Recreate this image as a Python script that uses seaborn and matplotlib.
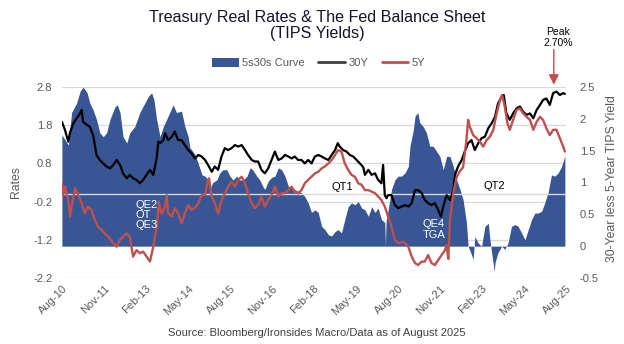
import numpy as np
import pandas as pd
import matplotlib
matplotlib.use("Agg")
import matplotlib.pyplot as plt
import seaborn as sns
from matplotlib.patches import Patch
from matplotlib.lines import Line2D
from matplotlib.ticker import FixedLocator, FuncFormatter

# ---------------- data (decimal years / values) -------------
curve_dates = [2010.58, 2010.77, 2010.87, 2011.02, 2011.12, 2011.21, 2011.33, 2011.41, 2011.51, 2011.61,
               2011.71, 2011.81, 2011.91, 2012.01, 2012.16, 2012.23, 2012.31, 2012.40, 2012.51, 2012.60,
               2012.75, 2012.90, 2013.05, 2013.15, 2013.25, 2013.32, 2013.40, 2013.50, 2013.60, 2013.74,
               2013.89, 2013.99, 2014.14, 2014.24, 2014.34, 2014.39, 2014.54, 2014.63, 2014.75, 2014.84,
               2014.93, 2014.98, 2015.07, 2015.19, 2015.28, 2015.37, 2015.49, 2015.58, 2015.67, 2015.79,
               2015.88, 2015.97, 2016.09, 2016.18, 2016.26, 2016.38, 2016.47, 2016.56, 2016.62, 2016.72,
               2016.82, 2016.92, 2017.02, 2017.12, 2017.22, 2017.32, 2017.42, 2017.51, 2017.61, 2017.71,
               2017.81, 2017.91, 2018.01, 2018.11, 2018.21, 2018.31, 2018.41, 2018.51, 2018.61, 2018.71,
               2018.80, 2018.90, 2019.00, 2019.10, 2019.20, 2019.30, 2019.40, 2019.50, 2019.60, 2019.70,
               2019.80, 2019.90, 2019.99, 2020.09, 2020.19, 2020.21, 2020.23, 2020.29, 2020.39, 2020.49,
               2020.59, 2020.69, 2020.79, 2020.89, 2020.94, 2021.04, 2021.09, 2021.17, 2021.23, 2021.33,
               2021.43, 2021.53, 2021.63, 2021.73, 2021.83, 2021.93, 2022.03, 2022.13, 2022.23, 2022.33,
               2022.43, 2022.52, 2022.62, 2022.67, 2022.77, 2022.82, 2022.87, 2022.97, 2023.07, 2023.17,
               2023.27, 2023.32, 2023.37, 2023.45, 2023.47, 2023.56, 2023.67, 2023.76, 2023.86, 2023.96,
               2024.06, 2024.16, 2024.26, 2024.36, 2024.46, 2024.56, 2024.66, 2024.75, 2024.86, 2024.95,
               2025.05, 2025.15, 2025.25, 2025.35, 2025.45, 2025.55]
curve_vals = [1.75, 1.59, 2.10, 2.25, 2.43, 2.50, 2.41, 2.25, 2.14, 1.99,
              1.78, 1.72, 1.78, 1.99, 2.19, 2.22, 2.10, 1.72, 1.62, 1.78,
              1.88, 2.10, 2.25, 2.35, 2.41, 2.30, 1.99, 1.72, 1.88, 2.04,
              2.22, 2.10, 2.12, 1.88, 1.72, 1.55, 1.44, 1.31, 1.12, 1.10,
              1.04, 0.89, 1.00, 1.04, 1.15, 1.20, 1.20, 1.10, 1.04, 1.10,
              1.04, 1.04, 1.10, 1.23, 1.20, 1.10, 1.04, 0.94, 0.89, 1.02,
              1.08, 1.10, 1.23, 1.20, 1.10, 0.94, 0.92, 0.89, 0.86, 0.84,
              0.78, 0.68, 0.53, 0.57, 0.53, 0.31, 0.26, 0.18, 0.16, 0.23,
              0.26, 0.21, 0.42, 0.62, 0.68, 0.65, 0.70, 0.60, 0.57, 0.47,
              0.62, 0.53, 0.60, 0.42, 0.37, 0.02, 0.40, 0.57, 0.89, 1.04,
              1.10, 1.10, 1.15, 1.25, 1.57, 1.83, 2.04, 2.10, 1.94, 1.88,
              1.78, 1.57, 1.57, 1.49, 1.41, 1.20, 1.41, 1.41, 1.25, 1.04,
              0.89, 0.73, 0.37, 0.00, -0.13, -0.21, 0.15, 0.05, 0.00, 0.31,
              0.36, 0.10, -0.10, -0.40, -0.26, -0.10, 0.00, -0.05, 0.05, 0.31,
              0.34, 0.31, 0.21, 0.10, 0.26, 0.42, 0.52, 0.52, 0.55, 0.68,
              0.84, 1.12, 1.10, 1.15, 1.25, 1.42]

y30_dates = [2010.58, 2010.67, 2010.77, 2010.82, 2010.92, 2011.02, 2011.12, 2011.17, 2011.21, 2011.32,
             2011.41, 2011.51, 2011.56, 2011.61, 2011.71, 2011.81, 2011.91, 2012.01, 2012.11, 2012.21,
             2012.31, 2012.40, 2012.51, 2012.60, 2012.70, 2012.80, 2012.90, 2013.00, 2013.10, 2013.20,
             2013.30, 2013.40, 2013.45, 2013.50, 2013.55, 2013.60, 2013.65, 2013.74, 2013.85, 2013.94,
             2014.04, 2014.14, 2014.24, 2014.34, 2014.44, 2014.54, 2014.64, 2014.74, 2014.84, 2014.93,
             2015.04, 2015.13, 2015.23, 2015.33, 2015.43, 2015.53, 2015.63, 2015.73, 2015.83, 2015.93,
             2016.03, 2016.12, 2016.23, 2016.32, 2016.42, 2016.52, 2016.62, 2016.72, 2016.82, 2016.92,
             2017.02, 2017.12, 2017.22, 2017.32, 2017.42, 2017.51, 2017.61, 2017.71, 2017.81, 2017.91,
             2018.01, 2018.11, 2018.21, 2018.31, 2018.41, 2018.51, 2018.61, 2018.71, 2018.79, 2018.85,
             2018.95, 2019.05, 2019.15, 2019.25, 2019.35, 2019.45, 2019.55, 2019.60, 2019.70, 2019.80,
             2019.90, 2019.99, 2020.09, 2020.14, 2020.19, 2020.24, 2020.29, 2020.39, 2020.49, 2020.59,
             2020.69, 2020.79, 2020.89, 2020.99, 2021.09, 2021.18, 2021.29, 2021.38, 2021.48, 2021.58,
             2021.68, 2021.78, 2021.86, 2021.93, 2022.03, 2022.13, 2022.23, 2022.28, 2022.37, 2022.48,
             2022.57, 2022.67, 2022.77, 2022.87, 2022.97, 2023.07, 2023.17, 2023.27, 2023.37, 2023.47,
             2023.56, 2023.67, 2023.73, 2023.81, 2023.91, 2024.01, 2024.11, 2024.21, 2024.31, 2024.41,
             2024.51, 2024.61, 2024.71, 2024.81, 2024.90, 2025.00, 2025.10, 2025.20, 2025.30, 2025.40,
             2025.50, 2025.55]
y30_vals = [1.89, 1.68, 1.37, 1.60, 1.85, 1.98, 2.11, 2.20, 1.89, 1.81,
            1.76, 1.54, 1.28, 1.02, 0.89, 0.80, 0.72, 0.67, 0.76, 0.89,
            0.76, 0.54, 0.41, 0.50, 0.41, 0.37, 0.28, 0.37, 0.50, 0.63,
            0.50, 0.93, 1.37, 1.33, 1.37, 1.41, 1.59, 1.41, 1.50, 1.63,
            1.41, 1.41, 1.28, 1.15, 1.06, 0.93, 1.02, 0.98, 0.89, 0.76,
            0.58, 0.72, 0.63, 0.98, 1.20, 1.15, 1.20, 1.28, 1.24, 1.28,
            1.15, 1.02, 0.89, 0.85, 0.85, 0.63, 0.54, 0.67, 0.89, 1.11,
            0.89, 0.93, 1.02, 0.98, 0.93, 0.98, 0.89, 0.89, 0.80, 0.89,
            0.80, 0.98, 1.02, 0.98, 0.93, 0.89, 1.02, 1.15, 1.33, 1.24,
            1.15, 1.11, 1.02, 0.98, 0.89, 0.80, 0.70, 0.50, 0.63, 0.50,
            0.54, 0.37, 0.28, 0.76, -0.03, -0.11, -0.03, -0.03, -0.29, -0.37,
            -0.33, -0.29, -0.33, -0.24, 0.10, 0.10, 0.02, -0.16, -0.24, -0.29,
            -0.24, -0.42, -0.59, -0.33, -0.03, -0.16, 0.10, 0.50, 0.72, 0.89,
            1.11, 1.33, 1.41, 1.15, 1.33, 1.46, 1.50, 1.72, 1.85, 2.02,
            2.37, 2.55, 2.59, 2.11, 1.94, 2.11, 2.24, 2.29, 2.15, 2.07,
            2.11, 1.98, 2.20, 2.33, 2.46, 2.50, 2.33, 2.64, 2.68, 2.59,
            2.64, 2.62]

y5_dates = [2010.58, 2010.62, 2010.67, 2010.77, 2010.82, 2010.87, 2010.97, 2011.07, 2011.17, 2011.26,
            2011.36, 2011.46, 2011.56, 2011.66, 2011.76, 2011.86, 2011.96, 2012.11, 2012.21, 2012.31,
            2012.40, 2012.51, 2012.60, 2012.70, 2012.80, 2012.90, 2013.00, 2013.10, 2013.20, 2013.30,
            2013.40, 2013.47, 2013.50, 2013.55, 2013.65, 2013.70, 2013.74, 2013.85, 2013.94, 2014.04,
            2014.14, 2014.24, 2014.34, 2014.44, 2014.54, 2014.64, 2014.74, 2014.84, 2014.93, 2014.96,
            2015.04, 2015.13, 2015.23, 2015.33, 2015.43, 2015.53, 2015.63, 2015.73, 2015.83, 2015.93,
            2016.03, 2016.12, 2016.23, 2016.32, 2016.42, 2016.52, 2016.62, 2016.72, 2016.82, 2016.92,
            2017.02, 2017.12, 2017.22, 2017.32, 2017.42, 2017.51, 2017.61, 2017.71, 2017.81, 2017.91,
            2018.01, 2018.11, 2018.21, 2018.31, 2018.41, 2018.51, 2018.61, 2018.71, 2018.80, 2018.90,
            2019.00, 2019.10, 2019.20, 2019.30, 2019.40, 2019.50, 2019.60, 2019.70, 2019.90, 2020.09,
            2020.19, 2020.29, 2020.39, 2020.49, 2020.59, 2020.74, 2020.89, 2020.99, 2021.09, 2021.18,
            2021.29, 2021.38, 2021.48, 2021.58, 2021.68, 2021.78, 2021.88, 2021.98, 2022.03, 2022.08,
            2022.13, 2022.23, 2022.33, 2022.43, 2022.52, 2022.62, 2022.67, 2022.72, 2022.82, 2022.92,
            2023.02, 2023.12, 2023.22, 2023.32, 2023.42, 2023.52, 2023.62, 2023.68, 2023.76, 2023.84,
            2023.91, 2024.01, 2024.11, 2024.21, 2024.31, 2024.41, 2024.51, 2024.61, 2024.71, 2024.81,
            2024.90, 2025.00, 2025.10, 2025.20, 2025.30, 2025.40, 2025.50, 2025.55]
y5_vals = [0.28, -0.03, 0.19, -0.16, -0.59, -0.33, 0.15, -0.03, -0.24, -0.51,
           -0.33, -0.42, -0.68, -0.86, -0.94, -1.03, -1.12, -1.29, -1.38, -1.20,
           -1.12, -1.03, -1.12, -1.64, -1.47, -1.55, -1.51, -1.64, -1.77, -1.38,
           -0.86, -0.20, -0.37, -0.51, -0.33, -0.03, -0.51, -0.59, -0.37, -0.51,
           -0.77, -0.51, -0.29, -0.42, -0.37, -0.24, -0.03, -0.03, 0.37, 0.41,
           -0.07, -0.24, -0.51, -0.16, 0.02, 0.19, 0.32, 0.19, 0.37, 0.45,
           0.28, 0.02, -0.24, -0.37, -0.29, -0.07, -0.33, -0.16, -0.03, 0.19,
           -0.07, 0.02, 0.02, 0.10, 0.19, 0.06, 0.02, 0.10, 0.28, 0.37,
           0.45, 0.54, 0.58, 0.67, 0.72, 0.80, 0.89, 1.02, 1.15, 1.11,
           0.80, 0.63, 0.50, 0.45, 0.28, 0.24, 0.10, 0.10, 0.02, -0.16,
           -0.33, -0.59, -0.86, -1.20, -1.29, -1.25, -1.38, -1.64, -1.81, -1.86,
           -1.77, -1.77, -1.60, -1.81, -1.86, -1.73, -1.60, -1.47, -1.34, -1.70,
           -0.68, 0.02, 0.45, 0.60, 0.70, 1.41, 1.94, 1.76, 1.54, 1.46,
           1.37, 1.24, 1.41, 1.50, 1.68, 2.11, 2.46, 2.59, 2.29, 1.85,
           1.68, 1.94, 2.20, 2.24, 2.11, 2.02, 1.94, 1.68, 1.89, 2.02,
           1.94, 1.72, 1.54, 1.68, 1.68, 1.46, 1.24, 1.11]

x_tick_labels = ["Aug-10", "Nov-11", "Feb-13", "May-14", "Aug-15", "Nov-16", "Feb-18",
                 "May-19", "Aug-20", "Nov-21", "Feb-23", "May-24", "Aug-25"]
left_ticks = [-2.2, -1.2, -0.2, 0.8, 1.8, 2.8]
right_ticks = [-0.5, 0, 0.5, 1, 1.5, 2, 2.5]

# ---------------- style ----------------
BLUE = "#375693"
RED = "#C0504D"
BLACK = "#000000"
GRAY = "#595959"
GRID = "#d9d9d9"

sns.set_theme(style="white")
plt.rcParams['font.family'] = ['Liberation Sans', 'DejaVu Sans']
plt.rcParams['axes.unicode_minus'] = False

fig = plt.figure(figsize=(6.24, 3.44), dpi=100)
rect = [62 / 624, 66 / 344, 504 / 624, 191 / 344]
ax_bg = fig.add_axes(rect, zorder=0)
ax_area = fig.add_axes(rect, sharex=ax_bg, zorder=1)
ax_line = fig.add_axes(rect, sharex=ax_bg, sharey=ax_bg, zorder=2)
for a in (ax_area, ax_line):
    a.patch.set_visible(False)
for a in (ax_bg, ax_area, ax_line):
    for s in a.spines.values():
        s.set_visible(False)

# tick positions from labels
tick_dt = pd.to_datetime(x_tick_labels, format="%b-%y")
tick_pos = [d.year + (d.month - 1) / 12 for d in tick_dt]

# background axis: left scale + gridlines + x ticks
ax_bg.set_ylim(left_ticks[0], left_ticks[-1])
ax_bg.set_xlim(tick_pos[0], tick_pos[-1])
ax_bg.yaxis.set_major_locator(FixedLocator(left_ticks))
ax_bg.yaxis.set_major_formatter(FuncFormatter(lambda v, p: f"{v:.1f}"))
ax_bg.grid(axis='y', color=GRID, linewidth=0.9)
ax_bg.grid(axis='x', visible=False)
ax_bg.set_xticks(tick_pos)
ax_bg.set_xticklabels(x_tick_labels)
ax_bg.tick_params(axis='y', length=0, pad=7, labelsize=8, labelcolor=GRAY)
ax_bg.tick_params(axis='x', length=0, pad=4, labelsize=8, labelcolor=GRAY)
plt.setp(ax_bg.get_xticklabels(), rotation=45, ha='right', rotation_mode='anchor')
ax_bg.set_ylabel("Rates", fontsize=8.8, color=GRAY)
ax_bg.yaxis.set_label_coords(-0.079, 0.5)

# area axis (right scale)
ax_area.fill_between(curve_dates, 0, curve_vals, color=BLUE, linewidth=0)
ax_area.set_ylim(right_ticks[0], right_ticks[-1])
ax_area.yaxis.tick_right()
ax_area.yaxis.set_label_position('right')
ax_area.yaxis.set_major_locator(FixedLocator(right_ticks))
ax_area.yaxis.set_major_formatter(FuncFormatter(lambda v, p: f"{v:g}"))
ax_area.tick_params(axis='y', length=0, pad=10, labelsize=8, labelcolor=GRAY)
ax_area.tick_params(axis='x', bottom=False, labelbottom=False)
ax_area.set_ylabel("30-Year less 5-Year TIPS Yield", fontsize=8.8, color=GRAY)
ax_area.yaxis.set_label_coords(1.079, 0.52)
ax_area.grid(False)

# lines axis (left scale)
ax_line.axhline(0, color=GRID, linewidth=1.0, zorder=1)
df30 = pd.DataFrame({"date": y30_dates, "val": y30_vals})
df5 = pd.DataFrame({"date": y5_dates, "val": y5_vals})
sns.lineplot(data=df30, x="date", y="val", ax=ax_line, color=BLACK, linewidth=1.6, zorder=3)
sns.lineplot(data=df5, x="date", y="val", ax=ax_line, color=RED, linewidth=1.7, zorder=4)
ax_line.set_xlabel("")
ax_line.set_ylabel("")
ax_line.tick_params(left=False, labelleft=False, bottom=False, labelbottom=False)
ax_line.grid(False)

# annotations
ax_line.text(2012.78, -0.55, "QE2\nOT\nQE3", color="white", fontsize=8, ha='left', va='center',
             linespacing=1.05, zorder=6)
ax_line.text(2018.94, 0.18, "QT1", color=BLACK, fontsize=8, ha='center', va='center', zorder=6)
ax_line.text(2021.65, -0.93, "QE4\nTGA", color="white", fontsize=8, ha='center', va='center',
             linespacing=1.05, zorder=6)
ax_line.text(2023.44, 0.21, "QT2", color=BLACK, fontsize=8, ha='center', va='center', zorder=6)
ax_line.text(2025.34, 4.10, "Peak\n2.70%", color=BLACK, fontsize=7.5, ha='center', va='center',
             linespacing=1.05, clip_on=False, zorder=6)
ax_line.annotate("", xy=(2025.22, 2.86), xytext=(2025.22, 3.78), annotation_clip=False,
                 arrowprops=dict(arrowstyle="-|>,head_length=0.5,head_width=0.25", color=RED, lw=1.0,
                                 shrinkA=0, shrinkB=0))

# title, legend, source
fig.text(0.508, 1 - 25.5 / 344, "Treasury Real Rates & The Fed Balance Sheet\n(TIPS Yields)",
         ha='center', va='center', fontsize=11.6, color="#14142a", linespacing=1.15)
handles = [Patch(facecolor=BLUE, edgecolor='none'),
           Line2D([0], [0], color="#404040", lw=2),
           Line2D([0], [0], color=RED, lw=2)]
leg = fig.legend(handles, ["5s30s Curve", "30Y", "5Y"], loc='center', bbox_to_anchor=(0.511, 1 - 63 / 344),
                 ncol=3, frameon=False, fontsize=8, handlelength=2.4, handleheight=0.9,
                 columnspacing=1.2, handletextpad=0.3)
for t in leg.get_texts():
    t.set_color(GRAY)
fig.text(0.507, 1 - 333 / 344, "Source: Bloomberg/Ironsides Macro/Data as of August 2025",
         ha='center', va='center', fontsize=8, color="#404040")

fig.savefig("out.png", dpi=100)
